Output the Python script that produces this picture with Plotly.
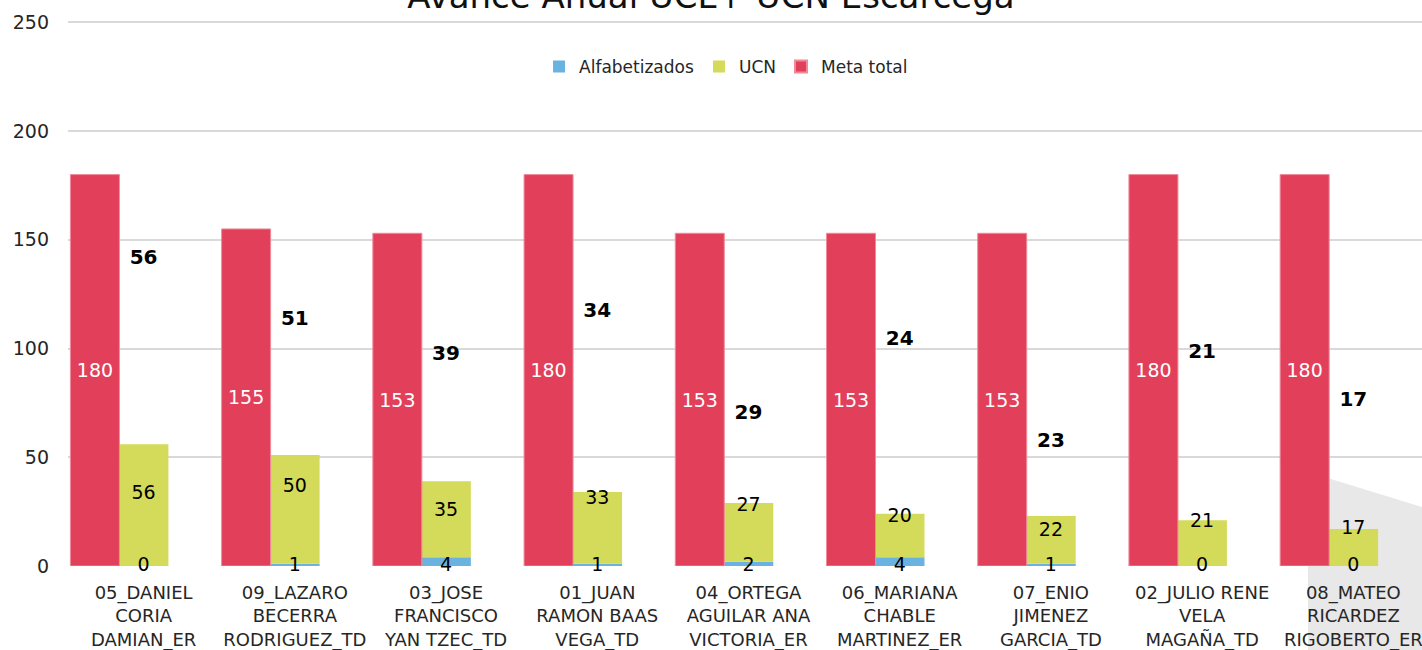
import plotly.graph_objects as go

# ---------------- data ----------------
categories = [
    "05_DANIEL<br>CORIA<br>DAMIAN_ER",
    "09_LAZARO<br>BECERRA<br>RODRIGUEZ_TD",
    "03_JOSE<br>FRANCISCO<br>YAN TZEC_TD",
    "01_JUAN<br>RAMON BAAS<br>VEGA_TD",
    "04_ORTEGA<br>AGUILAR ANA<br>VICTORIA_ER",
    "06_MARIANA<br>CHABLE<br>MARTINEZ_ER",
    "07_ENIO<br>JIMENEZ<br>GARCIA_TD",
    "02_JULIO RENE<br>VELA<br>MAGAÑA_TD",
    "08_MATEO<br>RICARDEZ<br>RIGOBERTO_ER",
]
alfabetizados = [0, 1, 4, 1, 2, 4, 1, 0, 0]
ucn = [56, 50, 35, 33, 27, 20, 22, 21, 17]
meta_total = [180, 155, 153, 180, 153, 153, 153, 180, 180]
totales = [56, 51, 39, 34, 29, 24, 23, 21, 17]
y_ticks = [0, 50, 100, 150, 200, 250]

# label heights (label layout, not data)
total_label_y = [141, 113, 97, 117, 70, 104, 57, 98, 76]
ucn_label_y = [33, 36, 25, 30.5, 27.5, 22.5, 16, 20, 17]

# ---------------- style ----------------
FONT = "DejaVu Sans"
RED = "#E2405A"
YEL = "#D4DB5A"
BLUE = "#6AB2DF"
W = 0.324

fig = go.Figure()

fig.add_trace(go.Bar(
    name="Alfabetizados", x=categories, y=alfabetizados,
    width=W, offset=-0.16, marker=dict(color=BLUE, line=dict(width=0)),
    hoverinfo="skip",
))
fig.add_trace(go.Bar(
    name="UCN", x=categories, y=ucn, base=alfabetizados,
    width=W, offset=-0.16, marker=dict(color=YEL, line=dict(width=0)),
    hoverinfo="skip",
))
fig.add_trace(go.Bar(
    name="Meta total", x=categories, y=meta_total,
    width=W, offset=-0.484,
    marker=dict(color=RED, line=dict(width=1, color="#ee8a9a")),
    text=[str(v) for v in meta_total], textposition="inside",
    insidetextanchor="middle", textangle=0, constraintext="none",
    textfont=dict(family=FONT, size=19, color="white"),
    hoverinfo="skip",
))

# UCN labels
fig.add_trace(go.Scatter(
    x=categories, y=ucn_label_y, mode="text",
    text=[str(v) for v in ucn], textposition="middle center",
    textfont=dict(family=FONT, size=19, color="black"),
    showlegend=False, hoverinfo="skip", cliponaxis=False,
))
# Alfabetizados labels
fig.add_trace(go.Scatter(
    x=categories, y=[0] * len(categories), mode="text",
    text=[str(v) for v in alfabetizados], textposition="middle center",
    textfont=dict(family=FONT, size=19, color="black"),
    showlegend=False, hoverinfo="skip", cliponaxis=False,
))
# total labels (bold)
fig.add_trace(go.Scatter(
    x=categories, y=total_label_y, mode="text",
    text=["<b>%d</b>" % v for v in totales], textposition="middle center",
    textfont=dict(family=FONT, size=20, color="black"),
    showlegend=False, hoverinfo="skip", cliponaxis=False,
))

# grey shadow artefact at bottom right (paper coords)
YMAX = 252
L, R_, B = 67.7, 1422.0, 566.0
T = B - (B - 22.5) * YMAX / 250.0
def px(xp, yp):
    return (xp - L) / (R_ - L), (B - yp) / (B - T)
pts = [px(1308, 652), px(1308, 472), px(1422, 507), px(1422, 652)]
path = "M " + " L ".join("%f,%f" % p for p in pts) + " Z"
fig.add_shape(type="path", path=path, xref="paper", yref="paper",
              fillcolor="#e8e8e8", line=dict(width=0), layer="below")

fig.update_layout(
    width=1422, height=650,
    margin=dict(l=68, r=0, t=T, b=650 - B),
    paper_bgcolor="white", plot_bgcolor="white",
    barmode="overlay",
    font=dict(family=FONT, color="#262626"),
    title=dict(text="Avance Anual UCL+ UCN Escarcega",
               font=dict(family=FONT, size=34, color="#111111"),
               x=0.5, xanchor="center", xref="container",
               y=1 - 8 / 650, yanchor="bottom", yref="container"),
    legend=dict(orientation="h", x=0.486, xanchor="center",
                y=(B - 67) / (B - T), yanchor="middle",
                font=dict(family=FONT, size=17, color="#262626"),
                itemsizing="constant", traceorder="normal",
                bgcolor="rgba(0,0,0,0)"),
    xaxis=dict(type="category", range=[-0.5, -0.5 + (1422 - 67.7) / 151.25],
               showgrid=False, showline=False, ticks="",
               tickfont=dict(family=FONT, size=18, color="#262626"),
               ticklabelstandoff=14),
    yaxis=dict(range=[0, YMAX], tickvals=y_ticks, showgrid=True,
               gridcolor="#d9d9d9", gridwidth=1.5, zeroline=False,
               showline=False, ticks="",
               tickfont=dict(family=FONT, size=19, color="#262626"),
               ticklabelstandoff=18),
    showlegend=True,
)

fig.write_html("out.html",
               config={"displayModeBar": False},
               post_script="document.body.style.margin='0';")
